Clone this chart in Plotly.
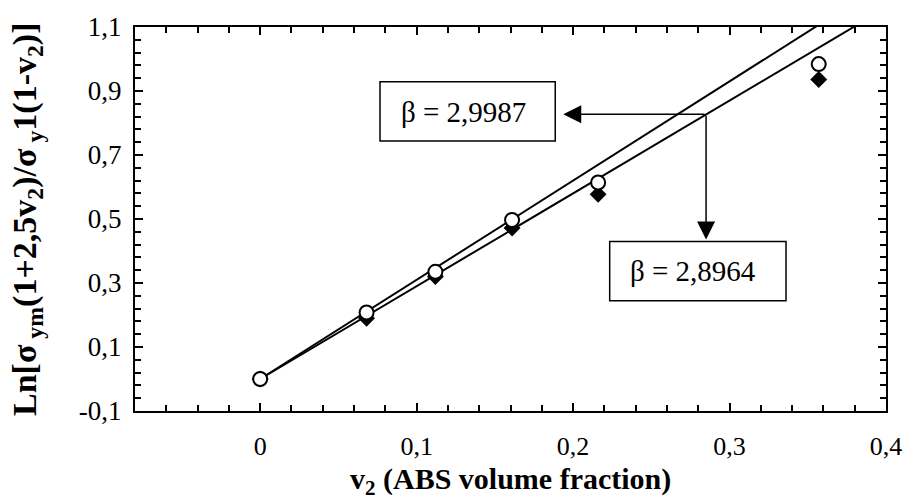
import plotly.graph_objects as go

# ---- data ----
v2_open = [0.0, 0.068, 0.112, 0.161, 0.216, 0.357]
y_open = [0.0, 0.208, 0.335, 0.497, 0.614, 0.984]
v2_filled = [0.0, 0.068, 0.112, 0.161, 0.216, 0.357]
y_filled = [0.0, 0.190, 0.320, 0.472, 0.577, 0.936]

fit_slopes = [3.10, 2.90]          # slopes of the two straight lines drawn through origin
fit_x = [0.0, 0.40]
beta_labels = ["β = 2,9987", "β = 2,8964"]

x_ticks = [0, 0.1, 0.2, 0.3, 0.4]
x_ticktext = ["0", "0,1", "0,2", "0,3", "0,4"]
y_ticks = [-0.1, 0.1, 0.3, 0.5, 0.7, 0.9, 1.1]
y_ticktext = ["-0,1", "0,1", "0,3", "0,5", "0,7", "0,9", "1,1"]

FONT = "Liberation Serif, Times New Roman, serif"

fig = go.Figure()

for s in fit_slopes:
    fig.add_trace(go.Scatter(x=fit_x, y=[s * xv for xv in fit_x], mode="lines",
                             line=dict(color="black", width=2), showlegend=False,
                             hoverinfo="skip"))

fig.add_trace(go.Scatter(x=v2_filled, y=y_filled, mode="markers",
                         marker=dict(symbol="diamond", size=13, color="black"),
                         showlegend=False))
fig.add_trace(go.Scatter(x=v2_open, y=y_open, mode="markers",
                         marker=dict(symbol="circle", size=14, color="white",
                                     line=dict(color="black", width=2)),
                         showlegend=False))

# annotation boxes (shapes) and arrows
junction = (0.285, 0.827)
box1 = dict(x0=0.0766, x1=0.1886, y0=0.744, y1=0.929)
box2 = dict(x0=0.2234, x1=0.3361, y0=0.2443, y1=0.430)
for b in (box1, box2):
    fig.add_shape(type="rect", xref="x", yref="y", line=dict(color="black", width=1.5),
                  fillcolor="white", layer="above", **b)

fig.add_annotation(x=0.1937, y=junction[1], ax=junction[0], ay=junction[1],
                   xref="x", yref="y", axref="x", ayref="y", text="", showarrow=True,
                   arrowhead=2, arrowsize=2.4, arrowwidth=1.5, arrowcolor="black")
fig.add_annotation(x=junction[0], y=0.436, ax=junction[0], ay=junction[1],
                   xref="x", yref="y", axref="x", ayref="y", text="", showarrow=True,
                   arrowhead=2, arrowsize=2.4, arrowwidth=1.5, arrowcolor="black")

fig.add_annotation(x=0.0886, y=0.834, xref="x", yref="y", text=beta_labels[0],
                   showarrow=False, xanchor="left", yanchor="middle",
                   font=dict(family=FONT, size=29, color="black"))
fig.add_annotation(x=0.2348, y=0.338, xref="x", yref="y", text=beta_labels[1],
                   showarrow=False, xanchor="left", yanchor="middle",
                   font=dict(family=FONT, size=29, color="black"))

# axis titles
fig.add_annotation(x=-0.1438, y=0.5, xref="paper", yref="paper", textangle=-90,
                   text="<b>Ln[σ<sub> ym</sub>(1+2,5v<sub>2</sub>)/σ<sub> y</sub>1(1-v<sub>2</sub>)]</b>",
                   showarrow=False, xanchor="center", yanchor="middle",
                   font=dict(family=FONT, size=34, color="black"))
fig.add_annotation(x=0.5, y=-0.183, xref="paper", yref="paper",
                   text="<b>v<sub>2</sub> (ABS volume fraction)</b>",
                   showarrow=False, xanchor="center", yanchor="middle",
                   font=dict(family=FONT, size=30, color="black"))

fig.update_xaxes(range=[-0.08, 0.4], tickmode="array", tickvals=x_ticks, ticktext=x_ticktext,
                 ticks="inside", ticklen=8, tickwidth=2, tickcolor="black",
                 minor=dict(dtick=0.02, tick0=0, ticks="inside", ticklen=6, tickwidth=2,
                            tickcolor="black"),
                 showline=True, linecolor="black", linewidth=2, mirror="ticks",
                 showgrid=False, zeroline=False, ticklabelstandoff=11,
                 tickfont=dict(family=FONT, size=26, color="black"))
fig.update_yaxes(range=[-0.1, 1.1], tickmode="array", tickvals=y_ticks, ticktext=y_ticktext,
                 ticks="inside", ticklen=8, tickwidth=2, tickcolor="black",
                 minor=dict(dtick=0.04, tick0=-0.1, ticks="inside", ticklen=6, tickwidth=2,
                            tickcolor="black"),
                 showline=True, linecolor="black", linewidth=2, mirror="ticks",
                 showgrid=False, zeroline=False, ticklabelstandoff=6,
                 tickfont=dict(family=FONT, size=27, color="black"))

fig.update_layout(width=914, height=501, margin=dict(l=135, r=21, t=17, b=90),
                  plot_bgcolor="white", paper_bgcolor="white", showlegend=False)

fig.write_html("out.html")
